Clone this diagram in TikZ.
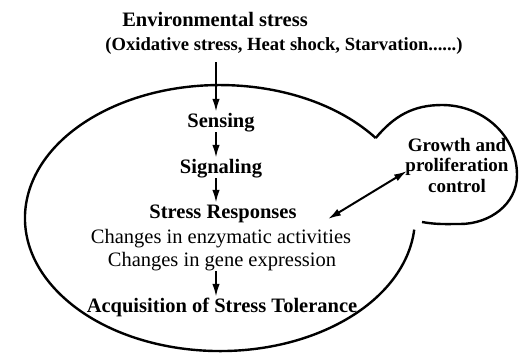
\documentclass[tikz,border=0pt]{standalone}
\usepackage{fontspec}
\setmainfont{Liberation Serif}
\usetikzlibrary{positioning, arrows.meta}

\begin{document}
\begin{tikzpicture}[x=1pt, y=-1pt,
        big/.style={font=\fontsize{20.5}{24}\selectfont\bfseries, inner sep=1pt, text height=14pt, text depth=4pt, anchor=base},
        plain/.style={font=\fontsize{20.5}{24}\selectfont, inner sep=1pt, text height=14pt, text depth=4pt, anchor=base},
        flow/.style={-{Latex[length=13pt, width=7.5pt]}, line width=2pt},
        both/.style={{Latex[length=13pt, width=7.5pt]}-{Latex[length=13pt, width=7.5pt]}, line width=2pt},
        cell/.style={line width=2.4pt}]
            \useasboundingbox (0, 0) rectangle (519, 354);

            \node [big] (env) at (215, 26) {Environmental stress};
            \node [big, font=\fontsize{18.6}{22}\selectfont\bfseries] (oxi) at (284, 50) {(Oxidative stress, Heat shock, Starvation......)};

            \node [big] (sens) at (221, 127) {Sensing};
            \node [big] (sig) at (221, 173) {Signaling};
            \node [big] (resp) at (223, 218) {Stress Responses};
            \node [plain] (enz) at (221, 243) {Changes in enzymatic activities};
            \node [plain] (gene) at (222, 266) {Changes in gene expression};
            \node [big] (acq) at (222, 312) {Acquisition of Stress Tolerance};

            \node [font=\fontsize{19}{20.5}\selectfont\bfseries, align=center, inner sep=0pt] (growth) at (457, 165) {Growth and\\proliferation\\control};

            % cell and bud
            \draw [cell] (375.7, 138) arc [start angle=37, end angle=355, x radius=195pt, y radius=133pt];
            \draw [cell] (375.7, 138) to [out=50, in=180] (442, 105) to [out=0, in=90] (517, 175)
                to [out=-90, in=0] (460, 224) to [out=180, in=-10] (422, 222);

            \coordinate (src) at (216, 62);
            \coordinate (link) at (328, 219);
            \coordinate (budin) at (407, 171);

            \draw [flow] (src) -- (sens.north -| src);
            \draw [flow] (sens.south -| src) -- (sig.north -| src);
            \draw [flow] (sig.south -| src) -- (resp.north -| src);
            \draw [flow] (gene.south -| src) -- (acq.north -| src);

            \draw [both] (link) -- (budin);
\end{tikzpicture}
\end{document}
